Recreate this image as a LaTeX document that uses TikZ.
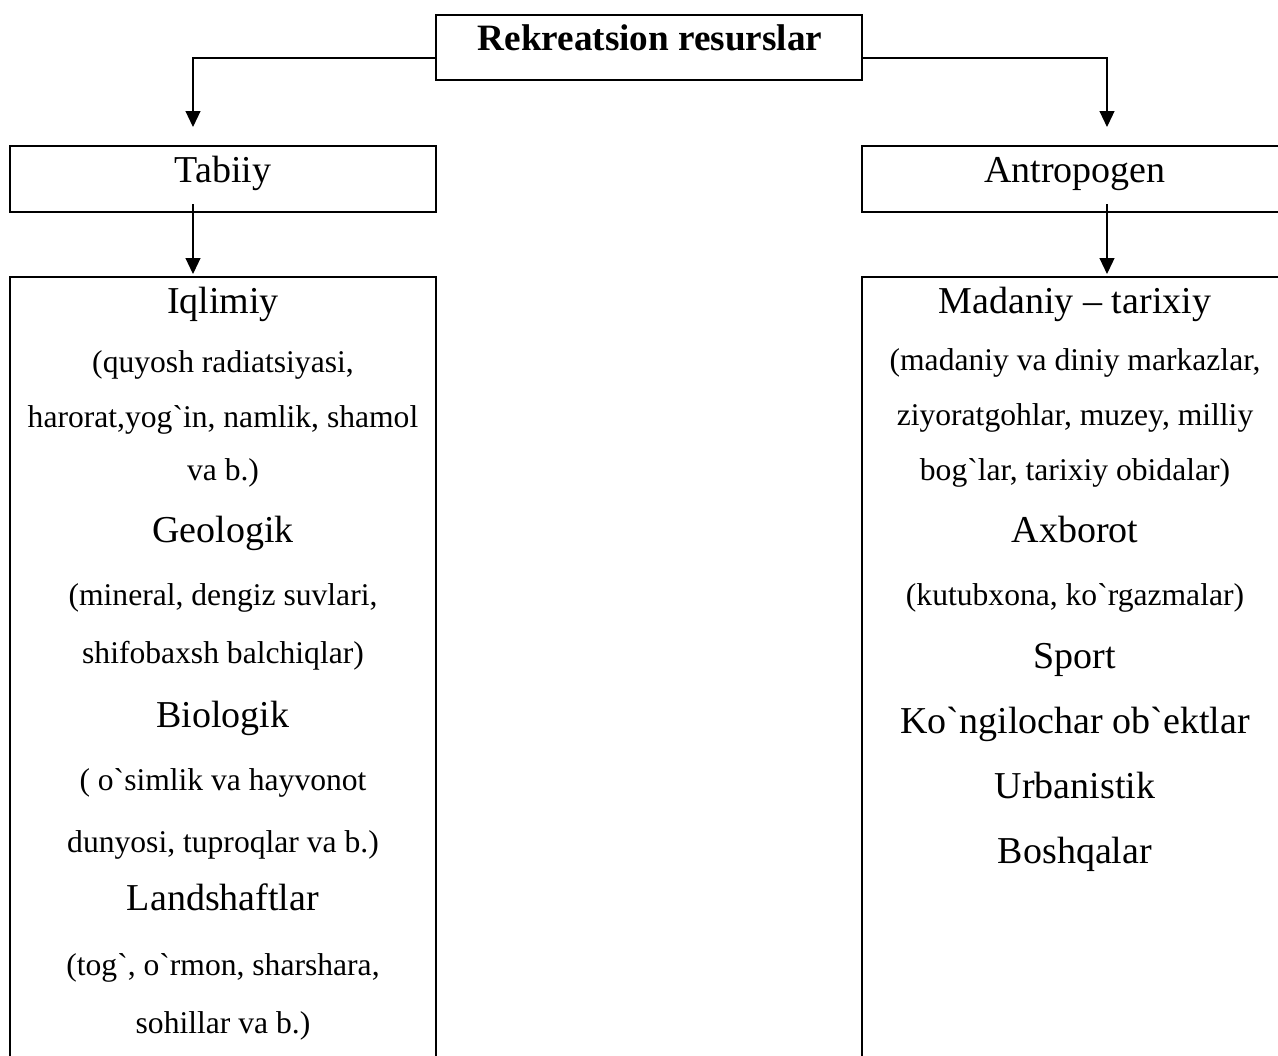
\documentclass[tikz,border=0pt]{standalone}
\usepackage{fontspec}
\setmainfont{Liberation Serif}
\usetikzlibrary{arrows.meta,fit}
\newcommand\bq{\textasciigrave{}}

\begin{document}
\begin{tikzpicture}[
  x=0.5pt,
  y=-0.5pt,
  box/.style={
    draw,
    line width=1pt,
    inner sep=0pt,
    fit={#1}
  },
  title/.style={anchor=base, font=\fontsize{18.6}{21}\selectfont\bfseries},
  head/.style={anchor=base, font=\fontsize{19}{22}\selectfont},
  note/.style={anchor=base, font=\fontsize{15.8}{18}\selectfont},
  fall/.style={
    line width=0.6pt,
    -{Triangle[width=7.5pt,length=8pt]}
  }
]
  \useasboundingbox (0,0) rectangle (1278,1055);
  \clip (0,0) rectangle (1278,1055);

  \node[box={(436,15) (862,80)}] (rekr) {};
  \node[title] (rekrtxt) at (650,50) {Rekreatsion resurslar};

  \node[box={(10,146) (436,212)}] (tabiiy) {};
  \node[head] (tabiiytxt) at (223,182) {Tabiiy};
  \node[box={(862,146) (1290,212)}] (antro) {};
  \node[head] (antrotxt) at (1075,182) {Antropogen};

  \node[box={(10,277) (436,1070)}] (iqlim) {};
  \node[box={(862,277) (1290,1070)}] (madan) {};

  \coordinate (lfork) at (193,58);
  \coordinate (rfork) at (1107,58);
  \draw[fall, shorten >=9pt] (rekr.west |- lfork) -- (lfork) -- (lfork |- tabiiy.north);
  \draw[fall, shorten >=9pt] (rekr.east |- rfork) -- (rfork) -- (rfork |- antro.north);
  \draw[fall, shorten >=1pt] (lfork |- tabiiy.south) ++(0,-9) -- (lfork |- iqlim.north);
  \draw[fall, shorten >=1pt] (rfork |- antro.south) ++(0,-9) -- (rfork |- madan.north);

  \node[head] (iqlimiy) at (223,313) {Iqlimiy};
  \node[note] (iqlim1) at (223,372) {(quyosh radiatsiyasi,};
  \node[note] (iqlim2) at (223,427) {harorat,yog\bq in, namlik, shamol};
  \node[note] (iqlim3) at (223,480) {va b.)};
  \node[head] (geolog) at (223,542) {Geologik};
  \node[note] (geolog1) at (223,605) {(mineral, dengiz suvlari,};
  \node[note] (geolog2) at (223,663) {shifobaxsh balchiqlar)};
  \node[head] (biolog) at (223,727) {Biologik};
  \node[note] (biolog1) at (223,790) {( o\bq simlik va hayvonot};
  \node[note] (biolog2) at (223,852) {dunyosi, tuproqlar va b.)};
  \node[head] (landsh) at (223,910) {Landshaftlar};
  \node[note] (landsh1) at (223,975) {(tog\bq, o\bq rmon, sharshara,};
  \node[note] (landsh2) at (223,1033) {sohillar va b.)};

  \node[head] (madaniy) at (1075,313) {Madaniy -- tarixiy};
  \node[note] (madan1) at (1075,370) {(madaniy va diniy markazlar,};
  \node[note] (madan2) at (1075,425) {ziyoratgohlar, muzey, milliy};
  \node[note] (madan3) at (1075,480) {bog\bq lar, tarixiy obidalar)};
  \node[head] (axborot) at (1075,542) {Axborot};
  \node[note] (axborot1) at (1075,605) {(kutubxona, ko\bq rgazmalar)};
  \node[head] (sport) at (1075,668) {Sport};
  \node[head] (kongil) at (1075,733) {Ko\bq ngilochar ob\bq ektlar};
  \node[head] (urban) at (1075,798) {Urbanistik};
  \node[head] (boshqa) at (1075,863) {Boshqalar};
\end{tikzpicture}
\end{document}
